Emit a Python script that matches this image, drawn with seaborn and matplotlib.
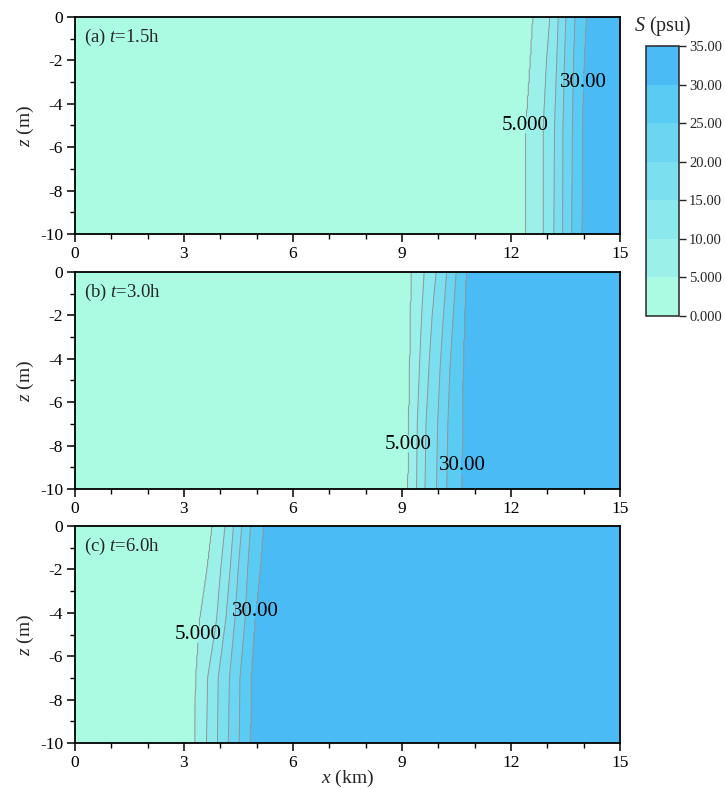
import numpy as np
import matplotlib
matplotlib.use("Agg")
import matplotlib.pyplot as plt
import seaborn as sns
from matplotlib.colors import ListedColormap, BoundaryNorm
from matplotlib.ticker import MultipleLocator

# ---------------- data ----------------
levels = [0, 5, 10, 15, 20, 25, 30, 35]
iso_levels = [5, 10, 15, 20, 25, 30]
labeled_levels = [5, 30]
plain_levels = [10, 15, 20, 25]
cbar_labels = ["0.000", "5.000", "10.00", "15.00", "20.00", "25.00", "30.00", "35.00"]
panel_titles = ["(a) $\\it{t}$=1.5h", "(b) $\\it{t}$=3.0h", "(c) $\\it{t}$=6.0h"]

# isohaline x-positions (km) at given depths (m), per panel
depth_a = [0, -2, -5, -10]
iso_a = [
    [12.61, 13.07, 13.30, 13.51, 13.76, 14.07],
    [12.54, 12.98, 13.26, 13.47, 13.72, 14.01],
    [12.42, 12.89, 13.20, 13.43, 13.69, 13.96],
    [12.41, 12.89, 13.18, 13.42, 13.67, 13.95],
]
depth_b = [0, -2, -4.4, -7, -10]
iso_b = [
    [9.27, 9.61, 9.94, 10.23, 10.49, 10.76],
    [9.24, 9.54, 9.83, 10.14, 10.41, 10.72],
    [9.22, 9.48, 9.74, 10.05, 10.32, 10.68],
    [9.19, 9.42, 9.66, 9.98, 10.26, 10.66],
    [9.17, 9.40, 9.63, 9.95, 10.23, 10.64],
]
depth_c = [0, -2, -4.3, -7, -10]
iso_c = [
    [3.78, 4.13, 4.36, 4.59, 4.83, 5.18],
    [3.64, 4.01, 4.27, 4.49, 4.75, 5.09],
    [3.44, 3.90, 4.15, 4.40, 4.68, 4.95],
    [3.33, 3.65, 3.94, 4.25, 4.54, 4.84],
    [3.30, 3.62, 3.92, 4.22, 4.52, 4.82],
]
# contour label anchor points (x km, z m)
label_pts = [
    [(12.39, -4.98), (13.95, -3.0)],
    [(9.19, -7.93), (10.65, -8.94)],
    [(3.36, -5.0), (4.95, -3.94)],
]

fill_colors = ["#ABFBE3", "#9BF1E9", "#8BE9ED", "#7CDFF0", "#6CD6F2", "#5ACBF3", "#4ABBF5"]
line_color = "#959595"

# ---------------- style ----------------
sns.set_style("ticks")
plt.rcParams["font.family"] = ["Liberation Serif", "DejaVu Serif"]
plt.rcParams["mathtext.fontset"] = "custom"
plt.rcParams["mathtext.rm"] = "Liberation Serif"
plt.rcParams["mathtext.it"] = "Liberation Serif:italic"
plt.rcParams["axes.unicode_minus"] = False

cmap = ListedColormap(fill_colors)
norm = BoundaryNorm(levels, cmap.N)

fig = plt.figure(figsize=(7.25, 7.89), dpi=100)
W, H = 725, 789
panel_px = [(17, 234), (272, 489), (526, 743)]
left_px, right_px = 75, 620

x_grid = np.linspace(0, 15, 601)
z_grid = np.linspace(0, -10, 201)


def build_field(depths, iso):
    depths = np.asarray(depths, float)
    iso = np.asarray(iso, float)
    pos = np.array([np.interp(-z_grid, -depths, iso[:, k]) for k in range(iso.shape[1])]).T
    S = np.empty((len(z_grid), len(x_grid)))
    for i in range(len(z_grid)):
        xs = np.concatenate([[0.0], pos[i], [15.0]])
        vs = np.concatenate([[2.5], iso_levels, [32.5]])
        S[i] = np.interp(x_grid, xs, vs)
    return S


datasets = [(depth_a, iso_a), (depth_b, iso_b), (depth_c, iso_c)]
cf = None
for p, ((dep, iso), (top, bot)) in enumerate(zip(datasets, panel_px)):
    ax = fig.add_axes([left_px / W, 1 - bot / H, (right_px - left_px) / W, (bot - top) / H])
    S = build_field(dep, iso)
    X, Z = np.meshgrid(x_grid, z_grid)
    cf = ax.contourf(X, Z, S, levels=levels, cmap=cmap, norm=norm)
    ax.contour(X, Z, S, levels=plain_levels, colors=line_color, linewidths=0.7)
    cs = ax.contour(X, Z, S, levels=labeled_levels, colors=line_color, linewidths=0.7)
    fmt = {5: "5.000", 30: "30.00"}
    lbls = ax.clabel(cs, fmt=fmt, manual=label_pts[p], inline=True,
                     inline_spacing=-15, fontsize=15, colors="black")
    for t in lbls:
        t.set_rotation(0)
    ax.set_xlim(0, 15)
    ax.set_ylim(-10, 0)
    ax.xaxis.set_major_locator(MultipleLocator(3))
    ax.xaxis.set_minor_locator(MultipleLocator(1))
    ax.yaxis.set_major_locator(MultipleLocator(2))
    ax.yaxis.set_minor_locator(MultipleLocator(1))
    ax.tick_params(which="major", direction="out", length=5.5, width=1.1, labelsize=12.5,
                   color="black", labelcolor="black", pad=3)
    ax.tick_params(which="minor", direction="out", length=3.5, width=1.0, color="black")
    ax.tick_params(top=False, right=False, which="both")
    for s in ax.spines.values():
        s.set_linewidth(1.3)
        s.set_color("black")
    ax.set_ylabel("$\\it{z}$ (m)", fontsize=14, labelpad=3)
    ax.text(0.016, 0.905, panel_titles[p], transform=ax.transAxes, fontsize=13.5,
            va="center", ha="left")
    if p == 2:
        ax.set_xlabel("$\\it{x}$ (km)", fontsize=14, labelpad=-2)

cax = fig.add_axes([645.7 / W, 1 - 315.7 / H, 33.6 / W, 269.7 / H])
cb = fig.colorbar(cf, cax=cax, ticks=levels)
cb.set_ticklabels(cbar_labels)
cb.outline.set_linewidth(1.1)
cax.tick_params(direction="out", length=5, width=1.0, labelsize=10.5, pad=2)
cax.minorticks_off()
fig.text(663 / W, 1 - 26 / H, "$\\it{S}$ (psu)", ha="center", va="center", fontsize=14.5)

fig.savefig("out.png", dpi=100)
